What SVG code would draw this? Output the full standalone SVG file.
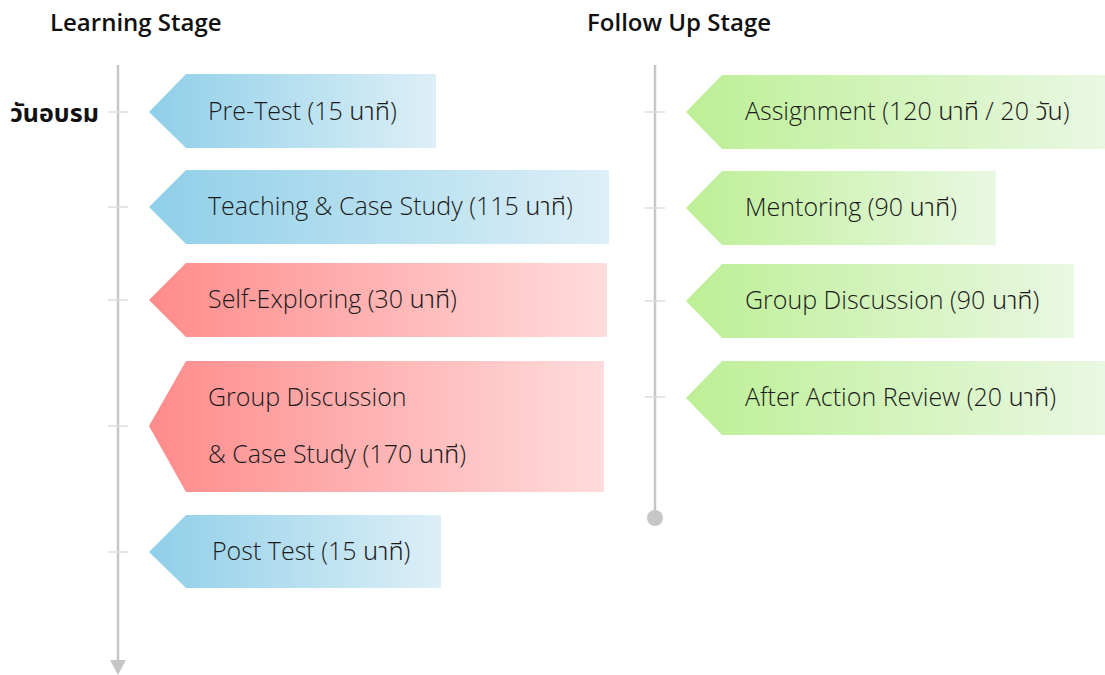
<svg xmlns="http://www.w3.org/2000/svg" width="1105" height="675" viewBox="0 0 1105 675">
<defs>
<linearGradient id="gBlue" x1="0" y1="0" x2="1" y2="0">
<stop offset="0" stop-color="#8fcfe8"/><stop offset="1" stop-color="#ddeff7"/>
</linearGradient>
<linearGradient id="gRed" x1="0" y1="0" x2="1" y2="0">
<stop offset="0" stop-color="#ff8b8b"/><stop offset="1" stop-color="#ffdcdc"/>
</linearGradient>
<linearGradient id="gGreen" x1="0" y1="0" x2="1" y2="0">
<stop offset="0" stop-color="#bdef96"/><stop offset="1" stop-color="#e9f8e2"/>
</linearGradient>
<style>
.t{font-family:"Open Sans","Noto Sans","Noto Sans Thai","Tahoma",sans-serif;font-size:25px;font-weight:300;fill:#1a1a1a}
.h{font-family:"Open Sans","Noto Sans","Noto Sans Thai",sans-serif;font-size:24px;font-weight:600;fill:#111}
.axis{stroke:#c6c6c6;stroke-width:2.5;fill:none}
.tick{stroke:#dcdcdc;stroke-width:1.5}
</style>
</defs>
<rect width="1105" height="675" fill="#fff"/>
<text class="h" x="50" y="31">Learning Stage</text>
<text class="h" x="587" y="31">Follow Up Stage</text>
<text class="h" x="10" y="122" style="font-size:25px;font-weight:bold">วันอบรม</text>
<g id="connectors">
<line class="axis" x1="118" y1="65" x2="118" y2="662"/>
<polygon points="110,660 126,660 118,675" fill="#c6c6c6"/>
<line class="tick" x1="108" y1="112" x2="128" y2="112"/>
<line class="tick" x1="108" y1="207" x2="128" y2="207"/>
<line class="tick" x1="108" y1="300" x2="128" y2="300"/>
<line class="tick" x1="108" y1="426" x2="128" y2="426"/>
<line class="tick" x1="108" y1="552" x2="128" y2="552"/>
<line class="axis" x1="655" y1="65" x2="655" y2="518"/>
<circle cx="655" cy="518" r="8" fill="#c6c6c6"/>
<line class="tick" x1="645" y1="112" x2="665" y2="112"/>
<line class="tick" x1="645" y1="208" x2="665" y2="208"/>
<line class="tick" x1="645" y1="301" x2="665" y2="301"/>
<line class="tick" x1="645" y1="397" x2="665" y2="397"/>
</g>
<g id="pretest">
<polygon points="149,112 186,74 436,74 436,148 186,148" fill="url(#gBlue)"/>
<text class="t" x="208" y="120">Pre-Test (15 นาที)</text>
</g>
<g id="teaching">
<polygon points="149,207 186,170 609,170 609,244 186,244" fill="url(#gBlue)"/>
<text class="t" x="208" y="215">Teaching &amp; Case Study (115 นาที)</text>
</g>
<g id="selfexploring">
<polygon points="149,300 186,263 607,263 607,337 186,337" fill="url(#gRed)"/>
<text class="t" x="208" y="308">Self-Exploring (30 นาที)</text>
</g>
<g id="groupdiscussion1">
<polygon points="149,426 186,361 604,361 604,492 186,492" fill="url(#gRed)"/>
<text class="t" x="208" y="406">Group Discussion</text>
<text class="t" x="208" y="463">&amp; Case Study (170 นาที)</text>
</g>
<g id="posttest">
<polygon points="149,552 186,515 441,515 441,588 186,588" fill="url(#gBlue)"/>
<text class="t" x="212" y="560">Post Test (15 นาที)</text>
</g>
<g id="assignment">
<polygon points="686,112 722,75 1105,75 1105,149 722,149" fill="url(#gGreen)"/>
<text class="t" x="745" y="120">Assignment (120 นาที / 20 วัน)</text>
</g>
<g id="mentoring">
<polygon points="686,208 722,171 996,171 996,245 722,245" fill="url(#gGreen)"/>
<text class="t" x="745" y="216">Mentoring (90 นาที)</text>
</g>
<g id="groupdiscussion2">
<polygon points="686,301 722,264 1074,264 1074,338 722,338" fill="url(#gGreen)"/>
<text class="t" x="745" y="309">Group Discussion (90 นาที)</text>
</g>
<g id="aar">
<polygon points="686,398 722,361 1105,361 1105,435 722,435" fill="url(#gGreen)"/>
<text class="t" x="745" y="406">After Action Review (20 นาที)</text>
</g>
</svg>
